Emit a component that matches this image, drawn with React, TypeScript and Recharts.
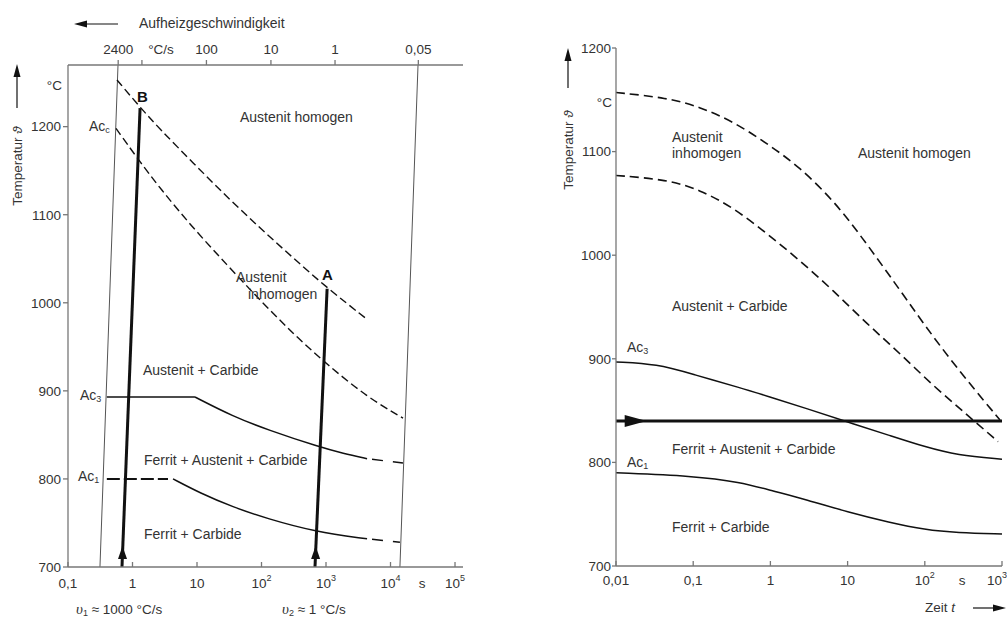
import { ComposedChart, Line, Scatter, XAxis, YAxis } from 'recharts';

const FONT = '"Liberation Sans", Arial, sans-serif';
const INK = '#333';
const AXIS = '#777';
const LINE = '#111';

// ---- left panel: heating time (s) vs temperature (°C)
const leftTimeTicks = [0.1, 1, 10, 100, 1000, 10000, 100000];
const leftTempTicks = [700, 800, 900, 1000, 1100, 1200];
const rateTickTimes = [0.6, 1.4, 14, 140, 1380, 27000];
const rateTickLabels = ['2400', '', '100', '10', '1', '0,05'];

const homogenLeft = [
  { t: 0.575, T: 1253 }, { t: 1.31, T: 1222 }, { t: 2.67, T: 1197 }, { t: 8.67, T: 1159 },
  { t: 29.2, T: 1120 }, { t: 94.8, T: 1085 }, { t: 308, T: 1051 }, { t: 1037, T: 1017 }, { t: 4030, T: 983 },
];
const accLeft = [
  { t: 0.555, T: 1198 }, { t: 1.22, T: 1163 }, { t: 2.67, T: 1130 }, { t: 8.67, T: 1085 },
  { t: 29.2, T: 1043 }, { t: 94.8, T: 1003 }, { t: 308, T: 965 }, { t: 1037, T: 930 },
  { t: 4325, T: 893 }, { t: 15630, T: 869 },
];
const ac3LeftFlat = [{ t: 0.4, T: 893 }, { t: 9.3, T: 893 }];
const ac3Left = [
  { t: 9.3, T: 893 }, { t: 36, T: 871 }, { t: 122, T: 856 }, { t: 807, T: 836 },
  { t: 1840, T: 829 }, { t: 4330, T: 823 },
];
const ac3LeftEnd = [{ t: 4330, T: 823 }, { t: 15600, T: 818 }];
const ac1LeftFlat = [{ t: 0.4, T: 800 }, { t: 3.55, T: 800 }];
const ac1Left = [
  { t: 4.25, T: 800 }, { t: 11.1, T: 784 }, { t: 36, T: 768 }, { t: 122, T: 755 },
  { t: 676, T: 740 }, { t: 4330, T: 732 },
];
const ac1LeftEnd = [{ t: 4330, T: 732 }, { t: 14000, T: 728 }];
const rateLineFast = [{ t: 0.313, T: 700 }, { t: 0.596, T: 1270 }];
const rateLineSlow = [{ t: 14000, T: 700 }, { t: 26700, T: 1270 }];
const pathB = [{ t: 0.687, T: 700 }, { t: 1.31, T: 1221 }];
const pathA = [{ t: 675, T: 700 }, { t: 1040, T: 1016 }];
const upArrows = [{ t: 0.7, T: 716 }, { t: 690, T: 716 }];

// ---- right panel: holding time (s) vs temperature (°C)
const rightTimeTicks = [0.01, 0.1, 1, 10, 100, 1000];
const rightTempTicks = [700, 800, 900, 1000, 1100, 1200];

const homogenRight = [
  { t: 0.01, T: 1157 }, { t: 0.046, T: 1152 }, { t: 0.123, T: 1143 }, { t: 0.33, T: 1129 },
  { t: 0.9, T: 1108 }, { t: 2.4, T: 1085 }, { t: 6.5, T: 1053 }, { t: 14.5, T: 1020 },
  { t: 48, T: 966 }, { t: 128, T: 921 }, { t: 352, T: 879 }, { t: 942, T: 841 },
];
const inhomRight = [
  { t: 0.01, T: 1077 }, { t: 0.046, T: 1073 }, { t: 0.123, T: 1063 }, { t: 0.33, T: 1046 },
  { t: 0.9, T: 1021 }, { t: 2.4, T: 995 }, { t: 6.5, T: 966 }, { t: 17.7, T: 934 },
  { t: 48, T: 905 }, { t: 128, T: 874 }, { t: 352, T: 846 }, { t: 890, T: 820 },
];
const ac3Right = [
  { t: 0.01, T: 897 }, { t: 0.034, T: 895 }, { t: 0.1, T: 885 }, { t: 0.41, T: 872 },
  { t: 1, T: 863 }, { t: 2.95, T: 852 }, { t: 10, T: 839 }, { t: 35, T: 826 },
  { t: 100, T: 815 }, { t: 262, T: 807 }, { t: 1000, T: 803 },
];
const ac1Right = [
  { t: 0.01, T: 790 }, { t: 0.1, T: 787 }, { t: 0.41, T: 781 }, { t: 1, T: 773 },
  { t: 2.95, T: 764 }, { t: 10, T: 752 }, { t: 35, T: 742 }, { t: 100, T: 735 },
  { t: 262, T: 732 }, { t: 1000, T: 731 },
];
const holdLine = [{ t: 0.01, T: 840 }, { t: 1000, T: 840 }];
const rightArrow = [{ t: 0.018, T: 840 }];

function logLabel(v: number) {
  if (v < 1) return { base: String(v).replace('.', ','), exp: '' };
  if (v <= 10) return { base: String(v), exp: '' };
  return { base: '10', exp: String(Math.round(Math.log10(v))) };
}

function LogTick({ x, y, payload, edge }: any) {
  const { base, exp } = logLabel(payload.value);
  const atEdge = edge !== undefined && payload.value === edge;
  return (
    <text x={atEdge ? x + 5 : x} y={y} textAnchor={atEdge ? 'end' : 'middle'} dominantBaseline="central"
      fill={INK} fontSize={13.5} fontFamily={FONT}>
      {base}
      {exp && <tspan dy={-5} fontSize={9}>{exp}</tspan>}
    </text>
  );
}

function RateTick({ x, y, payload }: any) {
  const i = rateTickTimes.indexOf(payload.value);
  return (
    <text x={x} y={y} textAnchor="middle" dominantBaseline="central" fill={INK} fontSize={13.5} fontFamily={FONT}>
      {rateTickLabels[i] ?? ''}
    </text>
  );
}

function UpArrow({ cx, cy }: any) {
  return <path d={`M${cx},${cy - 7} L${cx + 4.5},${cy + 6} L${cx - 4.5},${cy + 6} Z`} fill={LINE} />;
}

function RightArrowHead({ cx, cy }: any) {
  return <path d={`M${cx + 11},${cy} L${cx - 11},${cy - 6} L${cx - 11},${cy + 6} Z`} fill={LINE} />;
}

const yTick = { fill: INK, fontSize: 13.5, fontFamily: FONT };
const axisLine = { stroke: AXIS, strokeWidth: 1.3 };

function Txt({ x, y, children, anchor = 'start', size = 14, bold = false }: any) {
  return (
    <text x={x} y={y} textAnchor={anchor} dominantBaseline="central" fontSize={size}
      fontWeight={bold ? 'bold' : 'normal'} fill={bold ? '#111' : INK} fontFamily={FONT}>
      {children}
    </text>
  );
}

function Sub({ children }: any) {
  return <tspan fontSize={9} dy={4}>{children}</tspan>;
}

export default function App() {
  return (
    <div style={{ position: 'absolute', left: 0, top: 0, width: 1007, height: 617, background: '#fff', overflow: 'hidden' }}>
      <div style={{ position: 'absolute', left: 0, top: 0 }}>
        <ComposedChart width={500} height={617} margin={{ top: 45, right: 37, bottom: 20, left: 8 }}>
          <XAxis xAxisId="b" dataKey="t" type="number" scale="log" domain={[0.1, 133000]} allowDataOverflow
            ticks={leftTimeTicks} interval={0} tick={<LogTick />} tickSize={-5} tickMargin={21} height={30}
            axisLine={axisLine} tickLine={axisLine} />
          <XAxis xAxisId="top" orientation="top" dataKey="t" type="number" scale="log" domain={[0.1, 133000]}
            allowDataOverflow ticks={rateTickTimes} interval={0} tick={<RateTick />} tickSize={5} tickMargin={11}
            height={20} axisLine={axisLine} tickLine={axisLine} />
          <YAxis yAxisId="l" dataKey="T" type="number" domain={[700, 1270]} allowDataOverflow ticks={leftTempTicks}
            interval={0} width={60} tickSize={5} tickMargin={2} tick={yTick} axisLine={axisLine} tickLine={axisLine} />
          <YAxis yAxisId="r" orientation="right" type="number" domain={[700, 1270]} width={0} tick={false}
            tickLine={false} axisLine={axisLine} />

          <Line xAxisId="b" yAxisId="l" data={rateLineFast} dataKey="T" type="linear" stroke="#555" strokeWidth={1} dot={false} isAnimationActive={false} />
          <Line xAxisId="b" yAxisId="l" data={rateLineSlow} dataKey="T" type="linear" stroke="#555" strokeWidth={1} dot={false} isAnimationActive={false} />
          <Line xAxisId="b" yAxisId="l" data={homogenLeft} dataKey="T" type="basis" stroke={LINE} strokeWidth={1.4} strokeDasharray="8 4" dot={false} isAnimationActive={false} />
          <Line xAxisId="b" yAxisId="l" data={accLeft} dataKey="T" type="basis" stroke={LINE} strokeWidth={1.4} strokeDasharray="8 4" dot={false} isAnimationActive={false} />
          <Line xAxisId="b" yAxisId="l" data={ac3LeftFlat} dataKey="T" type="linear" stroke={LINE} strokeWidth={1.5} dot={false} isAnimationActive={false} />
          <Line xAxisId="b" yAxisId="l" data={ac3Left} dataKey="T" type="basis" stroke={LINE} strokeWidth={1.5} dot={false} isAnimationActive={false} />
          <Line xAxisId="b" yAxisId="l" data={ac3LeftEnd} dataKey="T" type="linear" stroke={LINE} strokeWidth={1.5} strokeDasharray="0 5 11 5" dot={false} isAnimationActive={false} />
          <Line xAxisId="b" yAxisId="l" data={ac1LeftFlat} dataKey="T" type="linear" stroke={LINE} strokeWidth={2} strokeDasharray="13 4" dot={false} isAnimationActive={false} />
          <Line xAxisId="b" yAxisId="l" data={ac1Left} dataKey="T" type="basis" stroke={LINE} strokeWidth={1.5} dot={false} isAnimationActive={false} />
          <Line xAxisId="b" yAxisId="l" data={ac1LeftEnd} dataKey="T" type="linear" stroke={LINE} strokeWidth={1.5} strokeDasharray="0 5 11 5" dot={false} isAnimationActive={false} />
          <Line xAxisId="b" yAxisId="l" data={pathB} dataKey="T" type="linear" stroke={LINE} strokeWidth={3} dot={false} isAnimationActive={false} />
          <Line xAxisId="b" yAxisId="l" data={pathA} dataKey="T" type="linear" stroke={LINE} strokeWidth={3} dot={false} isAnimationActive={false} />
          <Scatter xAxisId="b" yAxisId="l" data={upArrows} shape={<UpArrow />} isAnimationActive={false} />
        </ComposedChart>
      </div>

      <div style={{ position: 'absolute', left: 540, top: 0 }}>
        <ComposedChart width={467} height={617} margin={{ top: 48, right: 5, bottom: 21, left: 6 }}>
          <XAxis dataKey="t" type="number" scale="log" domain={[0.01, 1000]} allowDataOverflow ticks={rightTimeTicks}
            interval={0} tick={<LogTick edge={1000} />} tickSize={-5} tickMargin={19} height={30}
            axisLine={axisLine} tickLine={axisLine} />
          <YAxis dataKey="T" type="number" domain={[700, 1200]} allowDataOverflow ticks={rightTempTicks} interval={0}
            width={70} tickSize={4} tickMargin={1} tick={yTick} axisLine={axisLine} tickLine={axisLine} />

          <Line data={homogenRight} dataKey="T" type="basis" stroke={LINE} strokeWidth={1.6} strokeDasharray="9 5" dot={false} isAnimationActive={false} />
          <Line data={inhomRight} dataKey="T" type="basis" stroke={LINE} strokeWidth={1.6} strokeDasharray="9 5" dot={false} isAnimationActive={false} />
          <Line data={ac3Right} dataKey="T" type="basis" stroke={LINE} strokeWidth={1.5} dot={false} isAnimationActive={false} />
          <Line data={ac1Right} dataKey="T" type="basis" stroke={LINE} strokeWidth={1.5} dot={false} isAnimationActive={false} />
          <Line data={holdLine} dataKey="T" type="linear" stroke={LINE} strokeWidth={3} dot={false} isAnimationActive={false} />
          <Scatter data={rightArrow} shape={<RightArrowHead />} isAnimationActive={false} />
        </ComposedChart>
      </div>

      <svg width={1007} height={617} style={{ position: 'absolute', left: 0, top: 0, pointerEvents: 'none' }}>
        {/* left panel annotations */}
        <Txt x={139} y={23}>Aufheizgeschwindigkeit</Txt>
        <line x1={118} y1={24} x2={84} y2={24} stroke={LINE} strokeWidth={1.2} />
        <path d="M74,24 L87,20.5 L87,27.5 Z" fill={LINE} />
        <Txt x={161} y={49} anchor="middle" size={13.5}>°C/s</Txt>
        <Txt x={62} y={85} anchor="end" size={13.5}>°C</Txt>
        <g transform="translate(17,166) rotate(-90)">
          <Txt x={0} y={0} anchor="middle" size={13.5}>Temperatur <tspan fontStyle="italic">ϑ</tspan></Txt>
        </g>
        <line x1={17} y1={108} x2={17} y2={75} stroke={LINE} strokeWidth={1.2} />
        <path d="M17,64 L13.5,77 L20.5,77 Z" fill={LINE} />
        <Txt x={89} y={126}>Ac<Sub>c</Sub></Txt>
        <Txt x={137} y={96} size={15} bold>B</Txt>
        <Txt x={322} y={274} size={15} bold>A</Txt>
        <Txt x={240} y={117}>Austenit homogen</Txt>
        <Txt x={236} y={277}>Austenit</Txt>
        <Txt x={248} y={294}>inhomogen</Txt>
        <Txt x={143} y={370}>Austenit + Carbide</Txt>
        <Txt x={80} y={395}>Ac<Sub>3</Sub></Txt>
        <Txt x={144} y={460}>Ferrit + Austenit + Carbide</Txt>
        <Txt x={78} y={476}>Ac<Sub>1</Sub></Txt>
        <Txt x={144} y={534}>Ferrit + Carbide</Txt>
        <Txt x={422} y={583} anchor="middle" size={13.5}>s</Txt>
        <Txt x={76} y={609} size={13.5}>
          <tspan fontStyle="italic" fontFamily="'Liberation Serif', serif" fontSize={15}>υ</tspan>
          <Sub>1</Sub><tspan dy={-4}> ≈ 1000 °C/s</tspan>
        </Txt>
        <Txt x={282} y={609} size={13.5}>
          <tspan fontStyle="italic" fontFamily="'Liberation Serif', serif" fontSize={15}>υ</tspan>
          <Sub>2</Sub><tspan dy={-4}> ≈ 1 °C/s</tspan>
        </Txt>

        {/* right panel annotations */}
        <Txt x={612} y={102} anchor="end" size={13.5}>°C</Txt>
        <g transform="translate(568,150) rotate(-90)">
          <Txt x={0} y={0} anchor="middle" size={13.5}>Temperatur <tspan fontStyle="italic">ϑ</tspan></Txt>
        </g>
        <line x1={568} y1={88} x2={568} y2={58} stroke={LINE} strokeWidth={1.2} />
        <path d="M568,48 L564.5,61 L571.5,61 Z" fill={LINE} />
        <Txt x={672} y={137}>Austenit</Txt>
        <Txt x={672} y={153}>inhomogen</Txt>
        <Txt x={858} y={153}>Austenit homogen</Txt>
        <Txt x={672} y={306}>Austenit + Carbide</Txt>
        <Txt x={627} y={347}>Ac<Sub>3</Sub></Txt>
        <Txt x={672} y={449}>Ferrit + Austenit + Carbide</Txt>
        <Txt x={627} y={462}>Ac<Sub>1</Sub></Txt>
        <Txt x={672} y={527}>Ferrit + Carbide</Txt>
        <Txt x={962} y={580} anchor="middle" size={13.5}>s</Txt>
        <Txt x={925} y={607} size={13.5}>Zeit  <tspan fontStyle="italic">t</tspan></Txt>
        <line x1={973} y1={608} x2={995} y2={608} stroke={LINE} strokeWidth={1.2} />
        <path d="M1006,608 L993,604.5 L993,611.5 Z" fill={LINE} />
      </svg>
    </div>
  );
}
